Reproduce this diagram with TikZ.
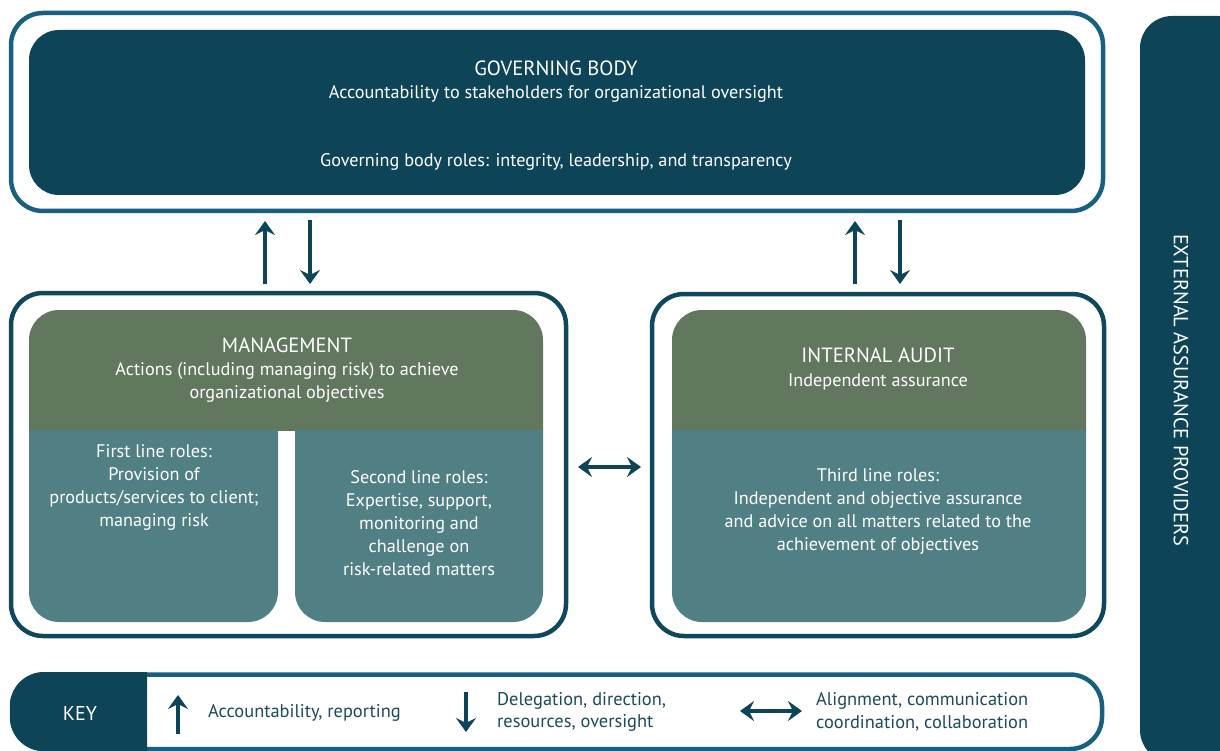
\documentclass[tikz,border=0pt]{standalone}
\usepackage{fontspec}
\setmainfont{PT Sans}
\usetikzlibrary{arrows.meta}
\definecolor{dark}{HTML}{0E4458}
\definecolor{govb}{HTML}{17607F}
\definecolor{mb}{HTML}{0F475C}
\definecolor{grn}{HTML}{61775E}
\definecolor{tl}{HTML}{507F84}
\definecolor{keytxt}{HTML}{1A4A5C}
\begin{document}
\begin{tikzpicture}[x=1pt,y=-1pt,
  txt/.style={text=white,font=\fontsize{18.2}{23}\selectfont,align=center,inner sep=0pt},
  head/.style={text=white,font=\fontsize{20.6}{23}\selectfont,inner sep=0pt},
  keyt/.style={text=keytxt,font=\fontsize{18.4}{22.5}\selectfont,align=left,inner sep=0pt,anchor=west},
  arr/.style={draw=dark,line width=4.6pt,-{Stealth[length=14pt,width=20pt,inset=5pt]}},
  darr/.style={draw=dark,line width=4.6pt,{Stealth[length=14pt,width=20pt,inset=5pt]}-{Stealth[length=14pt,width=20pt,inset=5pt]}},
  frame/.style={line width=4.5pt,rounded corners=32}]
\useasboundingbox (0,0) rectangle (1220,751);

% external assurance providers bar
\begin{scope}
  \clip (0,0) rectangle (1220,751);
  \fill[dark,rounded corners=32] (1140,16) rectangle (1250,762);
\end{scope}
\node[head,rotate=-90,font=\fontsize{20.4}{22}\selectfont] (ext) at (1181,390) {EXTERNAL ASSURANCE PROVIDERS};

% governing body
\draw[govb,frame] (11,13) rectangle (1103,211);
\fill[dark,rounded corners=30] (29,30) rectangle (1085,195);
\node[head] (gbt) at (556,68) {GOVERNING BODY};
\node[txt] (gba) at (556,94) {Accountability to stakeholders for organizational oversight};
\node[txt] (gbr) at (556,162) {Governing body roles: integrity, leadership, and transparency};

% management
\draw[mb,frame] (11,293) rectangle (566,636);
\begin{scope}
  \clip (0,0) rectangle (1220,430);
  \fill[grn,rounded corners=30] (29,310) rectangle (543,480);
  \fill[grn,rounded corners=30] (672,310) rectangle (1086,480);
\end{scope}
\begin{scope}
  \clip (0,430) rectangle (1220,751);
  \fill[tl,rounded corners=30] (29,380) rectangle (278,622);
  \fill[tl,rounded corners=30] (295,380) rectangle (543,622);
  \fill[tl,rounded corners=30] (672,380) rectangle (1086,622);
\end{scope}
\node[head] (mt) at (287,345) {MANAGEMENT};
\node[txt] (ma) at (287,382.5) {Actions (including managing risk) to achieve\\organizational objectives};
\node[txt] (fl) at (154,487.5) {First line roles:\\Provision of\\products/services to client;\\managing risk};
\node[txt] (sl) at (419,523) {Second line roles:\\Expertise, support,\\monitoring and\\challenge on\\risk-related matters};

% internal audit
\draw[mb,frame] (652,294) rectangle (1104,636);
\node[head] (iat) at (878,355) {INTERNAL AUDIT};
\node[txt] (iaa) at (878,382) {Independent assurance};
\node[txt] (tl3) at (878,511.5) {Third line roles:\\Independent and objective assurance\\and advice on all matters related to the\\achievement of objectives};

% arrows between governing body and the lines
\coordinate (a1s) at (265,284); \coordinate (a1e) at (265,221);
\coordinate (a2s) at (310,220); \coordinate (a2e) at (310,284);
\coordinate (a3s) at (855,284); \coordinate (a3e) at (855,221);
\coordinate (a4s) at (900,220); \coordinate (a4e) at (900,284);
\draw[arr] (a1s) -- (a1e);
\draw[arr] (a2s) -- (a2e);
\draw[arr] (a3s) -- (a3e);
\draw[arr] (a4s) -- (a4e);
\coordinate (hs) at (578,467); \coordinate (he) at (641,467);
\draw[darr] (hs) -- (he);

% key
\draw[govb,line width=4.5pt,rounded corners=32] (12,674.5) rectangle (1102,749);
\begin{scope}
  \clip (0,660) rectangle (147,751);
  \fill[dark,rounded corners=34] (10,672) rectangle (200,751);
\end{scope}
\node[head,font=\fontsize{20}{22}\selectfont] (key) at (80,713) {KEY};
\coordinate (k1s) at (178,734); \coordinate (k1e) at (178,695);
\draw[arr] (k1s) -- (k1e);
\node[keyt] (k1t) at (208,713) {Accountability, reporting};
\coordinate (k2s) at (466,692); \coordinate (k2e) at (466,732);
\draw[arr] (k2s) -- (k2e);
\node[keyt] (k2t) at (497,712) {Delegation, direction,\\resources, oversight};
\coordinate (k3s) at (740,711); \coordinate (k3e) at (802,711);
\draw[darr] (k3s) -- (k3e);
\node[keyt] (k3t) at (816,712) {Alignment, communication\\coordination, collaboration};
\end{tikzpicture}
\end{document}
